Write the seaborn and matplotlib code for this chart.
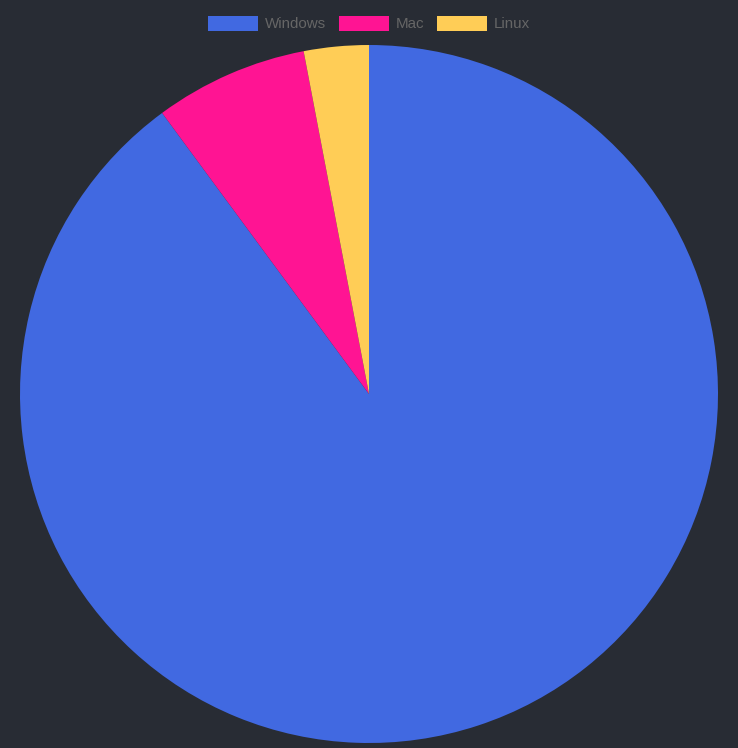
import matplotlib
matplotlib.use("Agg")
import matplotlib.pyplot as plt
import seaborn as sns

# OS share data
labels = ["Windows", "Mac", "Linux"]
shares = [89.9, 7.1, 3.0]
colors = ["#4169E1", "#FF1493", "#FFCD56"]

bg = "#282C34"
sns.set_theme(style="white", rc={"figure.facecolor": bg, "axes.facecolor": bg})
plt.rcParams["font.family"] = ["Liberation Sans", "DejaVu Sans"]

fig = plt.figure(figsize=(7.38, 7.48), dpi=100)
ax = fig.add_axes([20 / 738, 5 / 748, 698 / 738, 698 / 748])
ax.set_facecolor(bg)

wedges, _ = ax.pie(shares, colors=colors, startangle=90, counterclock=False,
                   radius=1.0, wedgeprops={"linewidth": 0})
ax.set_xlim(-1, 1)
ax.set_ylim(-1, 1)
ax.set_aspect("equal")
ax.axis("off")

leg = fig.legend(wedges, labels, loc="upper center", bbox_to_anchor=(0.5, 1 - 2 / 748),
                 ncol=3, frameon=False, fontsize=10.9, handlelength=3.3, handleheight=1.15,
                 handletextpad=0.46, columnspacing=0.86, labelcolor="#666666")

fig.savefig("out.png", dpi=100, facecolor=bg)
